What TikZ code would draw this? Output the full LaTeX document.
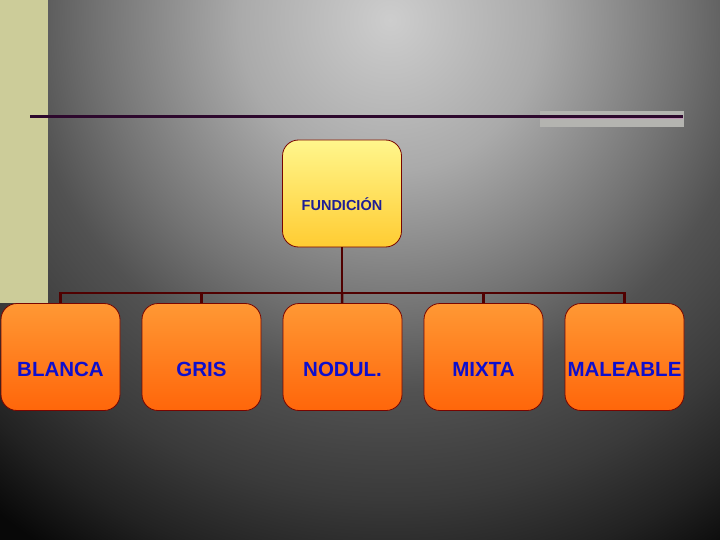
\documentclass[tikz,border=0pt]{standalone}
\usepackage{fontspec}
\setmainfont{Liberation Sans}
\usepackage{tikz}
\usetikzlibrary{shapes,arrows}
\definecolor{bgbeige}{RGB}{204,204,153}
\definecolor{bgA}{RGB}{205,205,205}
\definecolor{bgB}{RGB}{170,170,170}
\definecolor{bgC}{RGB}{115,115,115}
\definecolor{bgD}{RGB}{82,82,82}
\definecolor{bgE}{RGB}{58,58,58}
\definecolor{bgF}{RGB}{34,34,34}
\definecolor{bgG}{RGB}{8,8,8}
\definecolor{bargray}{RGB}{180,180,176}
\definecolor{barpink}{RGB}{190,150,180}
\definecolor{titleline}{RGB}{45,8,45}
\definecolor{connline}{RGB}{80,0,0}
\definecolor{boxline}{RGB}{120,5,0}
\definecolor{orangeA}{RGB}{255,152,52}
\definecolor{orangeB}{RGB}{255,102,10}
\definecolor{yellowA}{RGB}{255,246,140}
\definecolor{yellowB}{RGB}{255,204,50}
\definecolor{kindtext}{RGB}{15,15,205}
\definecolor{headtext}{RGB}{30,30,150}
\pgfdeclareradialshading{slidebg}{\pgfpoint{0bp}{0bp}}{color(0bp)=(bgA); color(5.4bp)=(bgB); color(10.4bp)=(bgC); color(13.2bp)=(bgD); color(17.1bp)=(bgE); color(20bp)=(bgF); color(22.5bp)=(bgG); color(50bp)=(bgG)}

\begin{document}
\begin{tikzpicture}[x=1pt,y=-1pt,node distance=141pt]
\tikzstyle{every node}=[font=\bfseries]
\tikzstyle{box}=[draw=boxline, line width=0.8pt, rounded corners=16pt, minimum width=119pt, minimum height=107pt, inner sep=0pt]
\tikzstyle{kind}=[box, top color=orangeA, bottom color=orangeB]
\tikzstyle{head}=[box, top color=yellowA, bottom color=yellowB]
\tikzstyle{kindlbl}=[yshift=-12pt, font=\fontsize{20.5}{20.5}\selectfont\bfseries, text=kindtext, inner sep=0pt]
\tikzstyle{headlbl}=[yshift=-11pt, font=\fontsize{14.5}{14.5}\selectfont\bfseries, text=headtext, inner sep=0pt]
\tikzstyle{conn}=[draw=connline, line width=2.5pt]
\useasboundingbox (0,0) rectangle (720,540);
\begin{scope}
\clip (0,0) rectangle (720,540);
\shade[shading=slidebg] (390,20) circle (700);
\end{scope}
\fill[bgbeige] (0,0) rectangle (48,303);
\fill[bargray] (540,111) rectangle (684,127);
\draw[barpink, line width=4.5pt] (540,117) -- (683,117);
\draw[titleline, line width=3pt] (30,117) -- (683,117);
\node (fundicion) [head, label={[headlbl]center:FUNDICIÓN}] at (342,193.5) {};
\node (blanca) [kind, label={[kindlbl]center:BLANCA}] at (60.5,357) {};
\node (gris) [kind, right of=blanca, label={[kindlbl]center:GRIS}] {};
\node (nodul) [kind, right of=gris, label={[kindlbl]center:NODUL.}] {};
\node (mixta) [kind, right of=nodul, label={[kindlbl]center:MIXTA}] {};
\node (maleable) [kind, right of=mixta, label={[kindlbl]center:MALEABLE}] {};
\coordinate (bus) at (342,293);
\draw[conn] (fundicion) -- (bus);
\draw[conn] (bus) -| (blanca);
\draw[conn] (bus) -| (gris);
\draw[conn] (bus) -- (nodul);
\draw[conn] (bus) -| (mixta);
\draw[conn] (bus) -| (maleable);
\end{tikzpicture}
\end{document}
